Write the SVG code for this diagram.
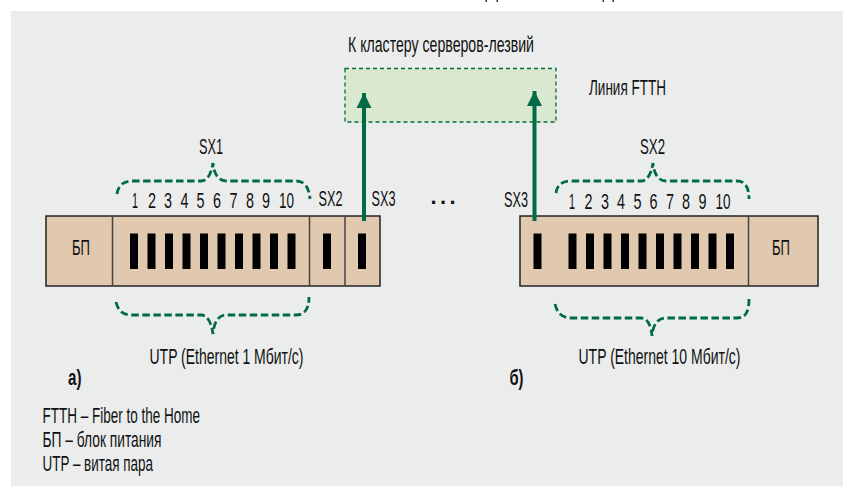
<svg xmlns="http://www.w3.org/2000/svg" width="843" height="486" viewBox="0 0 843 486">
<style>
text{font-family:"Liberation Sans",Arial,sans-serif;font-size:22px;fill:#111}
.b{font-weight:bold;font-size:22px}
.d{fill:#e0c9af;stroke:#222;stroke-width:1.5}
.s{stroke:#444;stroke-width:1.5;fill:none}
.br{fill:none;stroke:#006b46;stroke-width:2.8;stroke-dasharray:7.500 3.500}
.ar{stroke:#006b46;stroke-width:4;fill:none;marker-end:url(#ah)}
</style>
<defs>
<marker id="ah" markerUnits="userSpaceOnUse" markerWidth="16" markerHeight="16" refX="15" refY="8" orient="auto"><path d="M0 0.500L15 8L0 15.500z" fill="#006b46"/></marker>
<g id="bars"><rect x="0" width="8" height="35.500"/><rect x="17.500" width="8" height="35.500"/><rect x="35" width="8" height="35.500"/><rect x="52.500" width="8" height="35.500"/><rect x="70" width="8" height="35.500"/><rect x="87.500" width="8" height="35.500"/><rect x="105" width="8" height="35.500"/><rect x="122.500" width="8" height="35.500"/><rect x="140" width="8" height="35.500"/><rect x="157.500" width="8" height="35.500"/></g>
</defs>
<rect x="0" y="0" width="843" height="486" fill="#fff"/>
<g fill="#333"><rect x="485.500" y="0" width="1.500" height="2"/><rect x="496.500" y="0" width="1.500" height="2"/><rect x="602.500" y="0" width="1.500" height="2"/><rect x="612.500" y="0" width="1.500" height="2"/></g>
<rect id="panel" x="11" y="11" width="832" height="475" fill="#ebeded"/>
<g id="cluster"><rect x="345" y="68.500" width="211" height="53.500" fill="#d9e8cf" stroke="#006b46" stroke-width="1.300" stroke-dasharray="4 3"/>
<text x="348" y="51.500" textLength="186" lengthAdjust="spacingAndGlyphs">К кластеру серверов-лезвий</text></g>
<text id="ftth" x="589" y="95" textLength="77" lengthAdjust="spacingAndGlyphs">Линия FTTH</text>
<g id="device-a">
<rect class="d" x="46" y="216" width="334" height="70"/>
<path class="s" d="M112.500 216V286M309.500 216V286M345 216V286"/>
<use href="#bars" x="130" y="233.500"/>
<rect x="323" y="233.500" width="8" height="35.500"/><rect x="358" y="233.500" width="8" height="35.500"/>
<text x="72" y="255" textLength="18" lengthAdjust="spacingAndGlyphs">БП</text>
<g id="nums-a">
<text x="132" y="208" textLength="6" lengthAdjust="spacingAndGlyphs">1</text><text x="148" y="208" textLength="8" lengthAdjust="spacingAndGlyphs">2</text><text x="164" y="208" textLength="8" lengthAdjust="spacingAndGlyphs">3</text><text x="180.500" y="208" textLength="8" lengthAdjust="spacingAndGlyphs">4</text><text x="196.500" y="208" textLength="8" lengthAdjust="spacingAndGlyphs">5</text><text x="213" y="208" textLength="8" lengthAdjust="spacingAndGlyphs">6</text><text x="229.500" y="208" textLength="8" lengthAdjust="spacingAndGlyphs">7</text><text x="246" y="208" textLength="8" lengthAdjust="spacingAndGlyphs">8</text><text x="262" y="208" textLength="8" lengthAdjust="spacingAndGlyphs">9</text><text x="279" y="208" textLength="15" lengthAdjust="spacingAndGlyphs">10</text></g>
<text x="199" y="154" textLength="24" lengthAdjust="spacingAndGlyphs">SX1</text>
<text x="318.500" y="206" textLength="24" lengthAdjust="spacingAndGlyphs">SX2</text>
<text x="371.500" y="206" textLength="24" lengthAdjust="spacingAndGlyphs">SX3</text>
<text x="149.500" y="364" textLength="154" lengthAdjust="spacingAndGlyphs">UTP (Ethernet 1 Мбит/с)</text>
<text class="b" x="68" y="385" textLength="13.500" lengthAdjust="spacingAndGlyphs">а)</text>
</g>
<text id="dots" class="b" x="430.500" y="204" textLength="25" lengthAdjust="spacing">...</text>
<g id="device-b">
<rect class="d" x="520" y="216" width="298" height="70"/>
<path class="s" d="M748.500 216V286"/>
<rect x="533.500" y="233.500" width="8" height="35.500"/>
<use href="#bars" x="568.500" y="233.500"/>
<text x="772" y="255" textLength="18" lengthAdjust="spacingAndGlyphs">БП</text>
<g id="nums-b">
<text x="569" y="209" textLength="6" lengthAdjust="spacingAndGlyphs">1</text><text x="584.500" y="209" textLength="8" lengthAdjust="spacingAndGlyphs">2</text><text x="601" y="209" textLength="8" lengthAdjust="spacingAndGlyphs">3</text><text x="617" y="209" textLength="8" lengthAdjust="spacingAndGlyphs">4</text><text x="633.500" y="209" textLength="8" lengthAdjust="spacingAndGlyphs">5</text><text x="649.500" y="209" textLength="8" lengthAdjust="spacingAndGlyphs">6</text><text x="666" y="209" textLength="8" lengthAdjust="spacingAndGlyphs">7</text><text x="682" y="209" textLength="8" lengthAdjust="spacingAndGlyphs">8</text><text x="698.500" y="209" textLength="8" lengthAdjust="spacingAndGlyphs">9</text><text x="715.500" y="209" textLength="15" lengthAdjust="spacingAndGlyphs">10</text></g>
<text x="640" y="154" textLength="25" lengthAdjust="spacingAndGlyphs">SX2</text>
<text x="504" y="206.500" textLength="24" lengthAdjust="spacingAndGlyphs">SX3</text>
<text x="578.500" y="364" textLength="162" lengthAdjust="spacingAndGlyphs">UTP (Ethernet 10 Мбит/с)</text>
<text class="b" x="509.500" y="385" textLength="14" lengthAdjust="spacingAndGlyphs">б)</text>
</g>
<g id="legend">
<text x="42.500" y="423" textLength="157.500" lengthAdjust="spacingAndGlyphs">FTTH – Fiber to the Home</text>
<text x="42.500" y="446.500" textLength="119" lengthAdjust="spacingAndGlyphs">БП – блок питания</text>
<text x="42.500" y="470.500" textLength="110.500" lengthAdjust="spacingAndGlyphs">UTP – витая пара</text>
</g>
<g id="connectors">
<path class="ar" d="M364 221V93"/>
<path class="ar" d="M534.500 221V91"/>
<path class="br" d="M117 194C118 186 123 181 132 181H201C207 181 211 175 213 163C214 175 219 181 226 181H296C305 181 309 188 310 199"/>
<path class="br" d="M556 193C557 185 562 181 571 181H641C647 181 651 175 653 163C654 175 659 181 666 181H737C745 181 749 187 749 199"/>
<path class="br" d="M116 302C118 311 123 315 132 315H201C207 315 211 321 213 334C214 321 219 315 226 315H296C304 315 309 310 309 297"/>
<path class="br" d="M555 304C557 313 562 318 571 318H641C647 318 651 324 652 336C653 324 658 318 666 318H737C745 318 749 313 749 299"/>
</g>
</svg>
